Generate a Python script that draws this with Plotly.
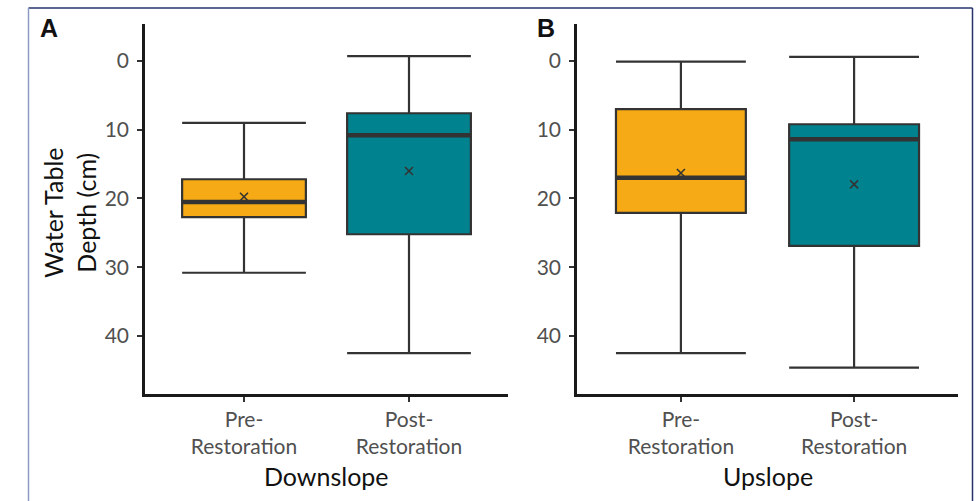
import plotly.graph_objects as go

categories = ["Pre-<br>Restoration", "Post-<br>Restoration"]
panel_titles = ["Downslope", "Upslope"]
panel_letters = ["A", "B"]
y_ticks = [0, 10, 20, 30, 40]

# Downslope (panel A): Pre, Post
down_whisker_top = [9.0, -0.7]
down_q1 = [17.2, 7.6]
down_median = [20.5, 10.8]
down_q3 = [22.7, 25.2]
down_whisker_bottom = [30.8, 42.5]
down_mean = [19.75, 16.0]

# Upslope (panel B): Pre, Post
up_whisker_top = [0.1, -0.6]
up_q1 = [7.0, 9.2]
up_median = [17.0, 11.4]
up_q3 = [22.1, 26.9]
up_whisker_bottom = [42.5, 44.6]
up_mean = [16.3, 17.95]

fill_colors = ["#F6AA15", "#01838F"]
edge = "#333333"
box_w = 0.75

fig = go.Figure()

panels = [
    (down_whisker_top, down_q1, down_median, down_q3, down_whisker_bottom, down_mean, "x", "y"),
    (up_whisker_top, up_q1, up_median, up_q3, up_whisker_bottom, up_mean, "x2", "y2"),
]

for wt, q1, med, q3, wb, mn, xa, ya in panels:
    for i in range(len(categories)):
        fig.add_trace(go.Box(
            x=[i], q1=[q1[i]], median=[med[i]], q3=[q3[i]],
            lowerfence=[wt[i]], upperfence=[wb[i]],
            width=box_w, whiskerwidth=1, boxpoints=False,
            fillcolor=fill_colors[i], line=dict(color=edge, width=2.2),
            xaxis=xa, yaxis=ya, showlegend=False, hoverinfo="skip",
        ))
        # thicker median line
        fig.add_trace(go.Scatter(
            x=[i - box_w / 2, i + box_w / 2], y=[med[i], med[i]],
            mode="lines", line=dict(color=edge, width=4.5),
            xaxis=xa, yaxis=ya, showlegend=False, hoverinfo="skip",
        ))
        # mean marker
        fig.add_trace(go.Scatter(
            x=[i], y=[mn[i]], mode="markers",
            marker=dict(symbol="x-thin", size=8, line=dict(color=edge, width=1.6)),
            xaxis=xa, yaxis=ya, showlegend=False, hoverinfo="skip",
        ))

W, H = 979, 501
def px_x(p):
    return p / W
def px_y(p):
    return 1 - p / H

tick_font = dict(family="Lato, 'Open Sans', sans-serif", size=21, color="#505050")
common_x = dict(
    tickmode="array", tickvals=list(range(len(categories))), ticktext=categories,
    range=[-0.6, 1.6], showgrid=False, zeroline=False,
    showline=True, linecolor="#1a1a1a", linewidth=2.5,
    ticks="outside", ticklen=5, tickwidth=2, tickcolor="#333333",
    tickfont=tick_font, fixedrange=True,
)
common_y = dict(
    tickmode="array", tickvals=y_ticks, range=[48.44, -5.38],
    showgrid=False, zeroline=False,
    showline=True, linecolor="#1a1a1a", linewidth=2.5,
    ticks="outside", ticklen=5, tickwidth=2, tickcolor="#333333",
    tickfont=tick_font, domain=[px_y(394), px_y(24)], fixedrange=True,
    ticklabelstandoff=4,
)

fig.update_layout(
    width=W, height=H,
    margin=dict(l=0, r=0, t=0, b=0),
    paper_bgcolor="white", plot_bgcolor="white",
    xaxis=dict(common_x, domain=[px_x(145), px_x(508)], anchor="y"),
    yaxis=dict(common_y, anchor="x"),
    xaxis2=dict(common_x, domain=[px_x(577), px_x(958)], anchor="y2"),
    yaxis2=dict(common_y, anchor="x2"),
    showlegend=False,
)

annotations = []
for letter, lx in zip(panel_letters, [38, 535]):
    annotations.append(dict(
        text="<b>" + letter + "</b>", x=px_x(lx), y=px_y(12), xref="paper", yref="paper",
        xanchor="left", yanchor="top", showarrow=False,
        font=dict(family="Liberation Sans, Arial, sans-serif", size=25, color="#111111"),
    ))
for title, cx in zip(panel_titles, [326.5, 767.5]):
    annotations.append(dict(
        text=title, x=px_x(cx), y=px_y(476), xref="paper", yref="paper",
        xanchor="center", yanchor="middle", showarrow=False,
        font=dict(family="Lato, 'Open Sans', sans-serif", size=25, color="#111111"),
    ))
annotations.append(dict(
    text="Water Table<br>Depth (cm)", x=px_x(69), y=px_y(213), xref="paper", yref="paper",
    xanchor="center", yanchor="middle", showarrow=False, textangle=-90,
    font=dict(family="Lato, 'Open Sans', sans-serif", size=25, color="#111111"),
))
fig.update_layout(annotations=annotations)

# frame around the figure (top, left, right)
fig.add_shape(type="line", xref="paper", yref="paper", x0=px_x(28.5), x1=px_x(972.5),
              y0=px_y(8), y1=px_y(8), line=dict(color="#26336e", width=1.5))
fig.add_shape(type="line", xref="paper", yref="paper", x0=px_x(28.5), x1=px_x(28.5),
              y0=px_y(8), y1=-0.05, line=dict(color="#8d9ac6", width=1.5))
fig.add_shape(type="line", xref="paper", yref="paper", x0=px_x(972.5), x1=px_x(972.5),
              y0=px_y(8), y1=-0.05, line=dict(color="#26336e", width=1.5))

fig.write_html("out.html")
